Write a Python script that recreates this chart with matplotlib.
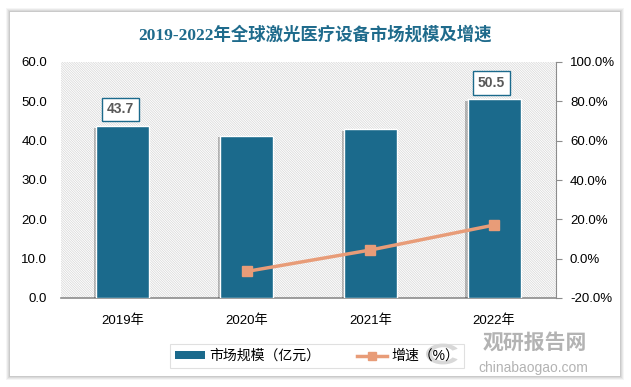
import matplotlib
matplotlib.use("Agg")
import matplotlib.pyplot as plt
from matplotlib.patches import Rectangle, Wedge, Patch
from matplotlib.lines import Line2D
import matplotlib.patheffects as pe
from matplotlib.ticker import FuncFormatter

plt.rcParams['font.family'] = ['Liberation Sans', 'Noto Sans CJK SC', 'DejaVu Sans']
plt.rcParams['hatch.linewidth'] = 0.5
plt.rcParams['hatch.color'] = '#d6d6d6'

# data
categories = ['2019年', '2020年', '2021年', '2022年']
market_size = [43.7, 41.3, 42.9, 50.5]
growth_years = ['2020年', '2021年', '2022年']
growth_rate = [-6.5, 4.4, 17.1]
label_years = ['2019年', '2022年']
title = '2019-2022年全球激光医疗设备市场规模及增速'

bar_color = '#1b6a8c'
line_color = '#e89c78'

fig = plt.figure(figsize=(6.31, 3.87), dpi=100)
fig.patch.set_facecolor('white')
W, H = 631, 387

# card with shadow
for i, a in enumerate([0.04, 0.05, 0.06, 0.07]):
    off = (4 - i)
    fig.patches.append(Rectangle(((10 - off) / W, 1 - (376 + off) / H),
                                 (610 + 2 * off) / W, (364 + 2 * off) / H,
                                 transform=fig.transFigure, facecolor='black',
                                 alpha=a, edgecolor='none', zorder=-3))
fig.patches.append(Rectangle((10 / W, 1 - 376 / H), 610 / W, 364 / H,
                             transform=fig.transFigure, facecolor='white',
                             edgecolor='none', zorder=-2))

ax = fig.add_axes([61 / W, 1 - 298 / H, 495 / W, 236 / H])
ax.set_facecolor('none')
ax.add_patch(Rectangle((0, 0), 1, 1, transform=ax.transAxes, facecolor='white',
                       hatch='\\' * 14, edgecolor='#d6d6d6',
                       linewidth=0, zorder=0))

x = list(range(len(categories)))
bars = ax.bar(x, market_size, width=0.43, color=bar_color, edgecolor='white',
              linewidth=1.0, zorder=3,
              path_effects=[pe.SimplePatchShadow(offset=(-1.5, -1), shadow_rgbFace='black', alpha=0.25),
                            pe.Normal()])
ax.set_xlim(-0.5, len(categories) - 0.5)
ax.set_ylim(0, 60)
ax.set_yticks([0, 10, 20, 30, 40, 50, 60])
ax.yaxis.set_major_formatter(FuncFormatter(lambda v, p: f'{v:.1f}'))
ax.set_xticks(x)
ax.set_xticklabels(categories, fontsize=9.5)
for s in ['top', 'right', 'left']:
    ax.spines[s].set_visible(False)
ax.spines['bottom'].set_color('#8c8c8c')
ax.spines['bottom'].set_linewidth(1.2)
ax.tick_params(axis='y', length=0, labelsize=9.5, pad=10)
ax.tick_params(axis='x', length=0, labelsize=9.5, pad=12)

for cat, val in zip(categories, market_size):
    if cat in label_years:
        i = categories.index(cat)
        ax.annotate(f'{val:.1f}', (i, val), xytext=(-2, 7), textcoords='offset points',
                    ha='center', va='bottom', fontsize=10, fontweight='bold', color='#595959',
                    bbox=dict(boxstyle='square,pad=0.35', facecolor='white',
                              edgecolor=bar_color, linewidth=1.0), zorder=6)

ax2 = ax.twinx()
gx = [categories.index(c) for c in growth_years]
ax2.plot(gx, growth_rate, color=line_color, linewidth=2.5, marker='s', markersize=7,
         zorder=5)
ax2.set_ylim(-20, 100)
ax2.set_yticks([-20, 0, 20, 40, 60, 80, 100])
ax2.yaxis.set_major_formatter(FuncFormatter(lambda v, p: f'{v:.1f}%'))
for s in ['top', 'left', 'bottom']:
    ax2.spines[s].set_visible(False)
ax2.spines['right'].set_color('#8c8c8c')
ax2.tick_params(axis='y', direction='out', length=4, color='#8c8c8c', labelsize=9.5, pad=6)

fig.text(315 / W, 1 - 35 / H, title, ha='center', va='center', fontsize=12.5,
         fontweight='bold', color='#1f6b8c',
         family=['Liberation Serif', 'Noto Sans CJK SC', 'DejaVu Sans'])

# watermark
fig.patches.append(Wedge((443 / W, 1 - 354 / H), 17 / W, 30, 330, width=6 / W,
                         transform=fig.transFigure, facecolor='#c8c8c8',
                         edgecolor='none', alpha=0.7, zorder=-1))
fig.text(535 / W, 1 - 342 / H, '观研报告网', ha='center', va='center', fontsize=15,
         fontweight='bold', color='#a0a0a0', alpha=0.8, family=['Noto Sans CJK SC'])
fig.text(533 / W, 1 - 368 / H, 'chinabaogao.com', ha='center', va='center', fontsize=10,
         color='#a0a0a0', alpha=0.8)

# legend
handles = [Patch(facecolor=bar_color, edgecolor='none'),
           Line2D([0], [0], color=line_color, linewidth=2.5, marker='s', markersize=6)]
leg = fig.legend(handles, ['市场规模（亿元）', '增速（%）'], loc='center',
                 bbox_to_anchor=(317 / W, 1 - 356 / H), ncol=2, fontsize=10,
                 frameon=True, fancybox=False, edgecolor='#d9d9d9',
                 handlelength=2.2, handleheight=0.5, columnspacing=2.6,
                 handletextpad=0.3, borderpad=0.35, borderaxespad=0)
leg.get_frame().set_linewidth(0.8)
leg.get_frame().set_facecolor('none')
leg.set_zorder(5)

fig.savefig('out.png', dpi=100, facecolor=fig.get_facecolor())
